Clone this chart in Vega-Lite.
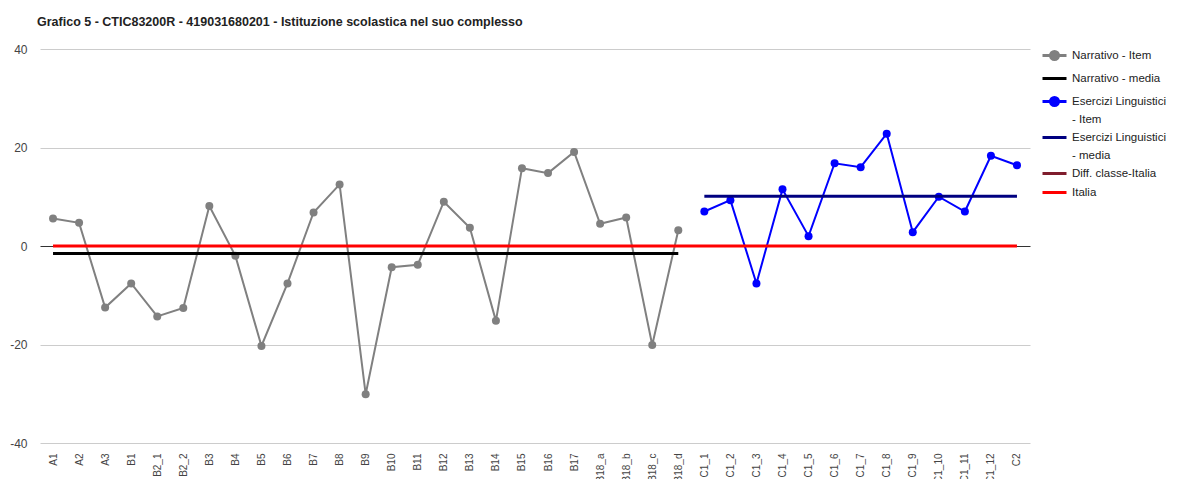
{
  "$schema": "https://vega.github.io/schema/vega-lite/v6.json",
  "width": 990,
  "height": 394,
  "padding": {"left": 9, "top": 15, "right": 0, "bottom": 0},
  "background": "white",
  "title": {
    "text": "Grafico 5 - CTIC83200R - 419031680201 - Istituzione scolastica nel suo complesso",
    "anchor": "start",
    "frame": "group",
    "font": "Liberation Sans",
    "fontSize": 12.5,
    "fontWeight": "bold",
    "color": "#222222",
    "offset": 15,
    "dx": -3
  },
  "config": {
    "view": {"stroke": null},
    "axis": {"labelFont": "Liberation Sans", "titleFont": "Liberation Sans"},
    "legend": {"labelFont": "Liberation Sans"}
  },
  "data": {
    "values": [
      {"x": "A1", "narr": 5.6, "narrMedia": -1.5, "italia": 0},
      {"x": "A2", "narr": 4.7, "narrMedia": -1.5, "italia": 0},
      {"x": "A3", "narr": -12.5, "narrMedia": -1.5, "italia": 0},
      {"x": "B1", "narr": -7.6, "narrMedia": -1.5, "italia": 0},
      {"x": "B2_1", "narr": -14.3, "narrMedia": -1.5, "italia": 0},
      {"x": "B2_2", "narr": -12.6, "narrMedia": -1.5, "italia": 0},
      {"x": "B3", "narr": 8.1, "narrMedia": -1.5, "italia": 0},
      {"x": "B4", "narr": -2.0, "narrMedia": -1.5, "italia": 0},
      {"x": "B5", "narr": -20.3, "narrMedia": -1.5, "italia": 0},
      {"x": "B6", "narr": -7.6, "narrMedia": -1.5, "italia": 0},
      {"x": "B7", "narr": 6.8, "narrMedia": -1.5, "italia": 0},
      {"x": "B8", "narr": 12.5, "narrMedia": -1.5, "italia": 0},
      {"x": "B9", "narr": -30.1, "narrMedia": -1.5, "italia": 0},
      {"x": "B10", "narr": -4.3, "narrMedia": -1.5, "italia": 0},
      {"x": "B11", "narr": -3.8, "narrMedia": -1.5, "italia": 0},
      {"x": "B12", "narr": 9.0, "narrMedia": -1.5, "italia": 0},
      {"x": "B13", "narr": 3.7, "narrMedia": -1.5, "italia": 0},
      {"x": "B14", "narr": -15.2, "narrMedia": -1.5, "italia": 0},
      {"x": "B15", "narr": 15.8, "narrMedia": -1.5, "italia": 0},
      {"x": "B16", "narr": 14.8, "narrMedia": -1.5, "italia": 0},
      {"x": "B17", "narr": 19.1, "narrMedia": -1.5, "italia": 0},
      {"x": "B18_a", "narr": 4.5, "narrMedia": -1.5, "italia": 0},
      {"x": "B18_b", "narr": 5.8, "narrMedia": -1.5, "italia": 0},
      {"x": "B18_c", "narr": -20.1, "narrMedia": -1.5, "italia": 0},
      {"x": "B18_d", "narr": 3.2, "narrMedia": -1.5, "italia": 0},
      {"x": "C1_1", "eser": 7.0, "eserMedia": 10.1, "italia": 0},
      {"x": "C1_2", "eser": 9.3, "eserMedia": 10.1, "italia": 0},
      {"x": "C1_3", "eser": -7.6, "eserMedia": 10.1, "italia": 0},
      {"x": "C1_4", "eser": 11.5, "eserMedia": 10.1, "italia": 0},
      {"x": "C1_5", "eser": 2.0, "eserMedia": 10.1, "italia": 0},
      {"x": "C1_6", "eser": 16.8, "eserMedia": 10.1, "italia": 0},
      {"x": "C1_7", "eser": 16.0, "eserMedia": 10.1, "italia": 0},
      {"x": "C1_8", "eser": 22.8, "eserMedia": 10.1, "italia": 0},
      {"x": "C1_9", "eser": 2.8, "eserMedia": 10.1, "italia": 0},
      {"x": "C1_10", "eser": 10.0, "eserMedia": 10.1, "italia": 0},
      {"x": "C1_11", "eser": 7.0, "eserMedia": 10.1, "italia": 0},
      {"x": "C1_12", "eser": 18.3, "eserMedia": 10.1, "italia": 0},
      {"x": "C2", "eser": 16.4, "eserMedia": 10.1, "italia": 0}
    ]
  },
  "transform": [
    {"fold": ["narr", "narrMedia", "eser", "eserMedia", "diff", "italia"], "as": ["s", "v"]}
  ],
  "encoding": {
    "x": {
      "field": "x",
      "type": "ordinal",
      "sort": null,
      "scale": {"type": "point", "padding": 0.5},
      "axis": {
        "title": null,
        "labelAngle": -90,
        "labelFontSize": 10,
        "labelColor": "#444444",
        "labelPadding": 10,
        "domain": false,
        "ticks": false,
        "grid": false
      }
    },
    "y": {
      "field": "v",
      "type": "quantitative",
      "scale": {"domain": [-40, 40], "nice": false},
      "axis": {
        "title": null,
        "values": [-40, -20, 0, 20, 40],
        "labelExpr": "datum.value < 0 ? '-' + abs(datum.value) : datum.label",
        "domain": false,
        "ticks": false,
        "grid": true,
        "gridColor": {"condition": {"test": "datum.value === 0", "value": "#333333"}, "value": "#cccccc"},
        "labelFontSize": 12,
        "labelColor": "#444444",
        "labelPadding": 13
      }
    },
    "color": {
      "field": "s",
      "type": "nominal",
      "scale": {
        "domain": ["narr", "narrMedia", "eser", "eserMedia", "diff", "italia"],
        "range": ["#808080", "#000000", "#0000ff", "#000080", "#7f1d2d", "#ff0000"]
      },
      "legend": {
        "title": null,
        "orient": "right",
        "offset": 18,
        "labelFontSize": 11.5,
        "labelColor": "#222222",
        "rowPadding": 6,
        "labelOffset": 11,
        "symbolOpacity": 1,
        "symbolSize": 100,
        "symbolStrokeWidth": 3,
        "labelExpr": "datum.value == 'narr' ? 'Narrativo - Item' : datum.value == 'narrMedia' ? 'Narrativo - media' : datum.value == 'eser' ? ['Esercizi Linguistici', '- Item'] : datum.value == 'eserMedia' ? ['Esercizi Linguistici', '- media'] : datum.value == 'diff' ? 'Diff. classe-Italia' : 'Italia'",
        "encode": {
          "symbols": {
            "update": {
              "stroke": {"scale": "color", "field": "value"},
              "fill": {"scale": "color", "field": "value"},
              "strokeWidth": {"value": 3},
              "size": {"value": 100},
              "opacity": {"value": 1}
            }
          },
          "labels": {"update": {"lineHeight": {"value": 18}}}
        }
      }
    }
  },
  "layer": [
    {
      "transform": [{"filter": "datum.s == 'narr'"}],
      "mark": {"type": "line", "strokeWidth": 2}
    },
    {
      "transform": [{"filter": "datum.s == 'narr'"}],
      "mark": {"type": "point", "filled": true, "size": 64, "opacity": 1}
    },
    {
      "transform": [{"filter": "datum.s == 'narrMedia'"}],
      "mark": {"type": "line", "strokeWidth": 3}
    },
    {
      "transform": [{"filter": "datum.s == 'eser'"}],
      "mark": {"type": "line", "strokeWidth": 2}
    },
    {
      "transform": [{"filter": "datum.s == 'eser'"}],
      "mark": {"type": "point", "filled": true, "size": 64, "opacity": 1}
    },
    {
      "transform": [{"filter": "datum.s == 'eserMedia'"}],
      "mark": {"type": "line", "strokeWidth": 3}
    },
    {
      "transform": [{"filter": "datum.s == 'italia'"}],
      "mark": {"type": "line", "strokeWidth": 3}
    },
    {
      "mark": {"type": "point", "filled": true, "opacity": 0},
      "encoding": {
        "shape": {
          "field": "s",
          "type": "nominal",
          "scale": {
            "domain": ["narr", "narrMedia", "eser", "eserMedia", "diff", "italia"],
            "range": [
              "M-2.4,0H2.4M-0.8,0A0.8,0.8 0 1,1 0.8,0A0.8,0.8 0 1,1 -0.8,0Z",
              "M-2.4,0H2.4",
              "M-2.4,0H2.4M-0.8,0A0.8,0.8 0 1,1 0.8,0A0.8,0.8 0 1,1 -0.8,0Z",
              "M-2.4,0H2.4",
              "M-2.4,0H2.4",
              "M-2.4,0H2.4"
            ]
          },
          "legend": {
            "title": null,
            "orient": "right",
            "offset": 18,
            "labelFontSize": 11.5,
            "labelColor": "#222222",
            "rowPadding": 6,
            "labelOffset": 11,
            "symbolOpacity": 1,
            "symbolSize": 100,
            "symbolStrokeWidth": 3,
            "labelExpr": "datum.value == 'narr' ? 'Narrativo - Item' : datum.value == 'narrMedia' ? 'Narrativo - media' : datum.value == 'eser' ? ['Esercizi Linguistici', '- Item'] : datum.value == 'eserMedia' ? ['Esercizi Linguistici', '- media'] : datum.value == 'diff' ? 'Diff. classe-Italia' : 'Italia'",
            "encode": {
              "symbols": {
                "update": {
                  "stroke": {"scale": "color", "field": "value"},
                  "fill": {"scale": "color", "field": "value"},
                  "strokeWidth": {"value": 3},
                  "size": {"value": 100},
                  "opacity": {"value": 1}
                }
              },
              "labels": {"update": {"lineHeight": {"value": 18}}}
            }
          }
        }
      }
    }
  ]
}
